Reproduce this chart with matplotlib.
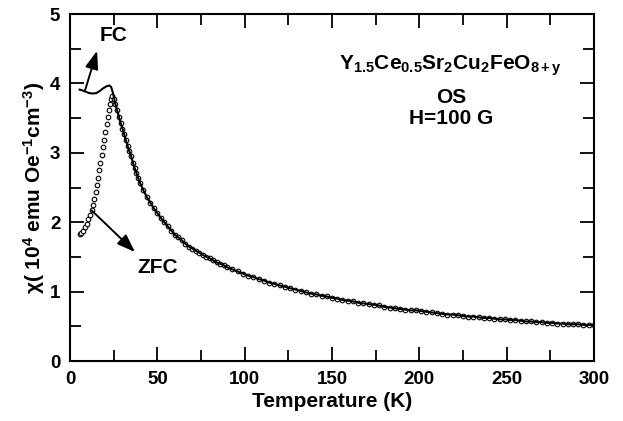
import matplotlib
matplotlib.use("Agg")
import matplotlib.pyplot as plt
from matplotlib.ticker import MultipleLocator

plt.rcParams['font.family'] = ['Liberation Sans', 'DejaVu Sans']
plt.rcParams['font.weight'] = 'bold'
plt.rcParams['mathtext.fontset'] = 'custom'
plt.rcParams['mathtext.rm'] = 'Liberation Sans:bold'
plt.rcParams['mathtext.it'] = 'Liberation Sans:bold'
plt.rcParams['mathtext.bf'] = 'Liberation Sans:bold'
plt.rcParams['mathtext.sf'] = 'Liberation Sans'

# ZFC data (circles)
zfc_T = [5.5, 6.5, 7.5, 8.5, 9.5, 10.5, 11.5, 12.5, 13.2, 13.9, 14.6, 15.3, 16, 16.7,
         17.4, 18.1, 18.8, 19.5, 20.2, 20.9, 21.6, 22.3, 23, 23.7, 24.3,
         25, 26, 27, 28, 29, 30, 31, 32, 33, 34, 35, 36, 37, 38, 39, 40,
         42, 44, 46, 48, 50, 52, 54, 56, 58, 60, 62, 64, 66, 68, 70, 72, 74, 76, 78,
         80, 82, 84, 86, 88,
         90, 93, 96, 99, 102, 105, 108, 111, 114, 117, 120, 123, 126, 129, 132, 135,
         138, 141, 144, 147, 150, 153, 156, 159, 162, 165, 168, 171, 174, 177, 180,
         183, 186, 189, 192, 195, 198, 201, 204, 207, 210, 213, 216, 219, 222, 225,
         228, 231, 234, 237, 240, 243, 246, 249, 252, 255, 258, 261, 264, 267, 270,
         273, 276, 279, 282, 285, 288, 291, 294, 297, 300]
zfc_chi = [1.83, 1.85, 1.88, 1.93, 1.98, 2.04, 2.10, 2.17, 2.25, 2.34, 2.44, 2.54, 2.64, 2.75,
           2.86, 2.97, 3.08, 3.19, 3.30, 3.41, 3.52, 3.62, 3.71, 3.78, 3.82,
           3.78, 3.70, 3.61, 3.52, 3.43, 3.35, 3.27, 3.18, 3.10, 3.02, 2.95, 2.86, 2.78,
           2.71, 2.64, 2.57,
           2.46, 2.36, 2.28, 2.20, 2.13, 2.06, 2.00, 1.94, 1.88, 1.82, 1.78, 1.74, 1.69,
           1.65, 1.62, 1.59, 1.56, 1.53, 1.50, 1.48, 1.45, 1.42, 1.40, 1.38,
           1.35, 1.32, 1.29, 1.26, 1.23, 1.21, 1.18, 1.16, 1.13, 1.11, 1.09, 1.07, 1.05,
           1.03, 1.01, 0.99, 0.97, 0.96, 0.94, 0.93, 0.91, 0.90, 0.88, 0.87, 0.86, 0.84,
           0.83, 0.82, 0.81, 0.80, 0.78, 0.77, 0.76, 0.75, 0.74, 0.73, 0.73, 0.72, 0.71,
           0.70, 0.69, 0.68, 0.67, 0.67, 0.66, 0.65, 0.64, 0.64, 0.63, 0.62, 0.62, 0.61,
           0.60, 0.60, 0.59, 0.59, 0.58, 0.57, 0.57, 0.56, 0.56, 0.55, 0.55, 0.54, 0.54,
           0.53, 0.53, 0.53, 0.52, 0.52, 0.52]

# FC data (solid line) below the peak; above it FC follows the ZFC points
fc_T_low = [5.5, 7, 9, 11, 13, 15, 17, 19, 21, 22.5, 23.5, 24.5]
fc_chi_low = [3.91, 3.90, 3.88, 3.86, 3.855, 3.86, 3.89, 3.93, 3.96, 3.97, 3.95, 3.87]

fc_T = fc_T_low + zfc_T[26:]
fc_chi = fc_chi_low + zfc_chi[26:]

fig = plt.figure(figsize=(6.23, 4.21), dpi=100)
ax = fig.add_axes([0.1124, 0.1425, 0.8410, 0.8242])

ax.plot(zfc_T, zfc_chi, linestyle='none', marker='o', markersize=3.3,
        markerfacecolor='white', markeredgecolor='black', markeredgewidth=0.8, zorder=2)
ax.plot(fc_T, fc_chi, color='black', linewidth=1.5, zorder=3)

ax.set_xlim(0, 300)
ax.set_ylim(0, 5)
ax.xaxis.set_major_locator(MultipleLocator(50))
ax.xaxis.set_minor_locator(MultipleLocator(25))
ax.yaxis.set_major_locator(MultipleLocator(1))
ax.yaxis.set_minor_locator(MultipleLocator(0.5))
ax.tick_params(which='both', direction='in', top=True, right=True, width=1.3,
               labelsize=13.5, pad=7)
ax.tick_params(which='major', length=10)
ax.tick_params(which='minor', length=8)
for lab in ax.get_xticklabels() + ax.get_yticklabels():
    lab.set_fontweight('bold')
for sp in ax.spines.values():
    sp.set_linewidth(1.5)

ax.set_xlabel('Temperature (K)', fontsize=15, fontweight='bold', labelpad=3)
ax.set_ylabel(r'$\mathsf{\chi}$( 10$^4$ emu Oe$^{-1}$cm$^{-3}$)', fontsize=15,
              fontweight='bold', labelpad=2)

# annotations
arrow = dict(arrowstyle='-|>,head_length=1.1,head_width=0.4', color='black', lw=1.4,
             shrinkA=0, shrinkB=0)
ax.annotate('', xy=(15.5, 4.47), xytext=(8.6, 3.90), arrowprops=arrow)
ax.text(25, 4.69, 'FC', fontsize=15, fontweight='bold', ha='center', va='center')
ax.annotate('', xy=(37.2, 1.57), xytext=(12.4, 2.17), arrowprops=arrow)
ax.text(50, 1.35, 'ZFC', fontsize=15, fontweight='bold', ha='center', va='center')

ax.text(218, 4.26, r'Y$_{1.5}$Ce$_{0.5}$Sr$_2$Cu$_2$FeO$_{8+y}$', fontsize=15,
        fontweight='bold', ha='center', va='center')
ax.text(218, 3.80, 'OS', fontsize=15, fontweight='bold', ha='center', va='center')
ax.text(218, 3.50, 'H=100 G', fontsize=15, fontweight='bold', ha='center', va='center')

fig.savefig('out.png', dpi=100)
